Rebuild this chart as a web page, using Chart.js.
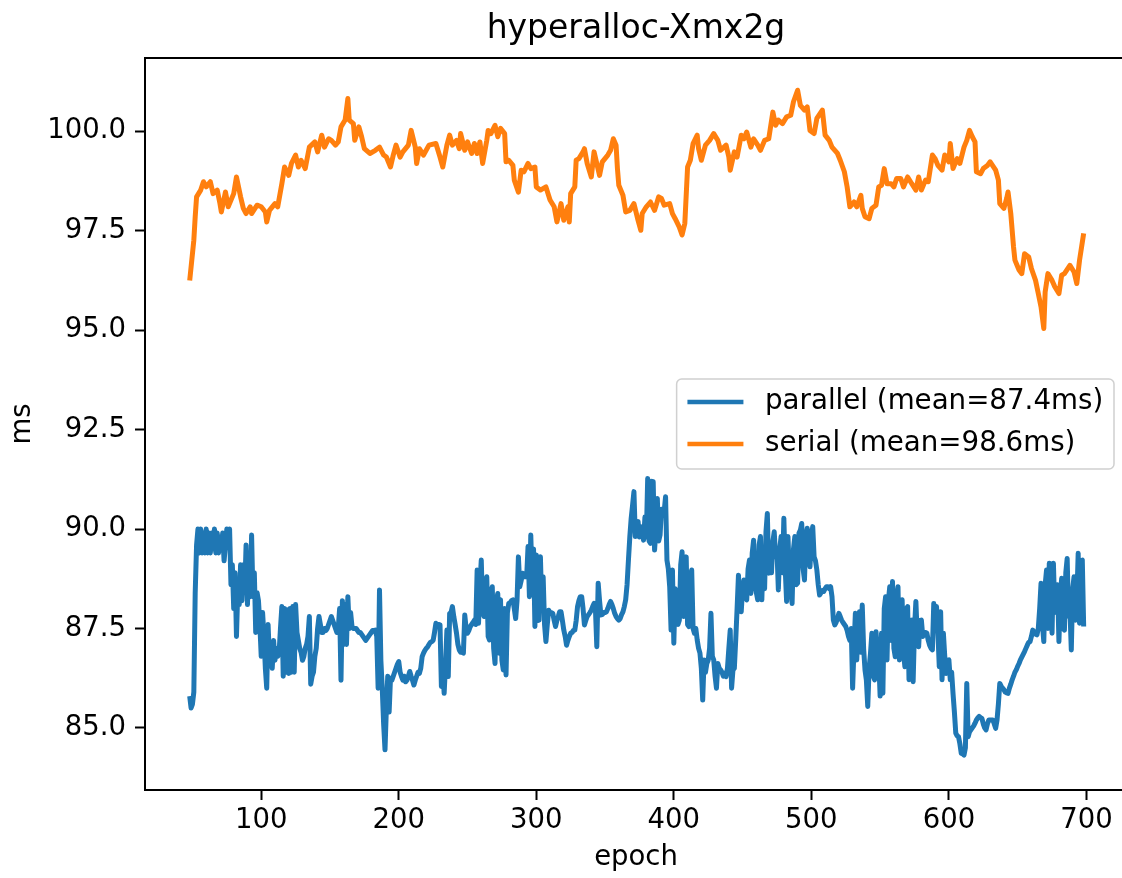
<!DOCTYPE html>
<html>
<head>
<meta charset="utf-8">
<script src="https://cdn.jsdelivr.net/npm/chart.js@4.4.1/dist/chart.umd.min.js"></script>
<style>
html, body { margin: 0; padding: 0; background: #fff; overflow: hidden; }
</style>
</head>
<body>
<canvas id="myChart" width="1130" height="878"></canvas>
<script>
const chartTitle = "hyperalloc-Xmx2g";
const seriesNames = ["parallel (mean=87.4ms)", "serial (mean=98.6ms)"];
const seriesColors = ["#1f77b4", "#ff7f0e"];
const xTicks = [100, 200, 300, 400, 500, 600, 700];
const yTicks = [85, 87.5, 90, 92.5, 95, 97.5, 100];

// parallel run (blue), one value per epoch starting at epoch 48
const parallelFirstEpoch = 48;
const parallelMs = [
    85.8,85.5,85.6,85.9,88.4,89.6,90.0,89.4,90.0,89.4,      // 48
    89.9,89.4,90.0,89.4,89.9,89.4,89.9,89.5,90.0,89.4,      // 58
    89.9,89.4,89.8,89.5,89.9,89.2,89.6,90.0,89.9,90.0,      // 68
    88.6,89.1,88.0,88.9,87.3,88.5,88.1,89.1,88.2,89.1,      // 78
    88.4,89.6,88.1,89.4,88.3,89.85,88.3,88.9,87.4,88.4,     // 88
    88.2,87.6,86.8,87.9,87.3,86.5,86.0,87.6,86.7,87.0,      // 98
    86.5,87.2,86.7,87.0,86.8,86.9,87.5,88.05,86.3,88.0,     // 108
    86.4,87.97,86.37,88.0,86.4,88.05,86.4,88.1,87.4,87.2,   // 118
    87.0,86.9,86.7,86.8,87.0,87.1,87.3,87.8,86.1,86.3,      // 128
    86.4,86.8,87.0,87.5,87.8,87.6,87.4,87.4,87.5,87.45,     // 138
    87.5,87.6,87.7,87.8,87.7,87.6,87.5,87.4,87.5,88.0,      // 148
    86.2,88.2,87.1,88.1,87.1,88.3,87.5,87.9,87.55,87.5,     // 158
    87.5,87.5,87.45,87.4,87.4,87.35,87.3,87.25,87.2,87.25,  // 168
    87.3,87.35,87.4,87.45,87.45,87.46,87.3,86.0,88.47,86.7, // 178
    86.0,85.1,84.45,85.5,86.3,85.4,86.25,86.2,86.3,86.4,    // 188
    86.5,86.6,86.67,86.4,86.29,86.2,86.3,86.16,86.2,86.3,   // 198
    86.42,86.3,86.2,86.08,86.2,86.3,86.4,86.37,86.5,86.79,  // 208
    86.88,86.95,87.0,87.04,87.1,87.15,87.17,87.2,87.4,87.63,// 218
    87.6,87.6,87.59,86.04,86.5,85.87,86.6,87.46,86.29,87.88,// 228
    87.9,88.05,87.8,87.6,87.38,87.1,86.96,86.9,86.9,86.88,  // 238
    87.84,87.5,87.38,87.45,87.55,87.6,87.65,87.71,87.6,88.97, // 248
    87.63,88.6,89.22,87.9,87.8,88.6,88.8,87.3,87.21,88.4,   // 258
    88.55,87.0,86.62,88.2,88.38,86.88,88.22,86.7,86.46,88.0,// 268
    86.33,87.9,88.13,88.15,88.2,88.22,88.0,87.75,88.2,89.3, // 278
    88.55,88.7,88.89,88.8,88.8,88.8,89.56,88.3,89.85,88.64, // 288
    89.5,87.55,89.35,87.7,87.71,89.3,88.0,88.8,87.6,87.17,  // 298
    87.6,87.96,87.9,87.9,87.88,87.7,87.55,87.7,87.8,87.92,  // 308
    87.92,87.7,87.46,87.3,87.08,87.2,87.3,87.38,87.4,87.45, // 318
    87.46,87.7,88.05,88.2,88.3,88.3,88.0,87.59,87.7,87.8,   // 328
    87.85,87.9,87.96,88.05,88.13,88.0,87.04,88.64,88.2,87.84, // 338
    87.85,87.9,87.9,87.92,88.0,88.1,88.18,88.1,88.0,87.88,  // 348
    87.8,87.75,87.71,87.75,87.85,87.92,88.05,88.22,88.6,89.22, // 358
    89.8,90.27,90.6,90.94,89.81,90.1,90.19,89.8,90.06,89.9, // 368
    89.72,90.3,89.8,91.27,89.7,89.64,91.2,91.19,89.47,90.0, // 378
    90.77,89.7,89.85,90.5,90.39,90.45,90.81,89.22,89.0,88.55, // 388
    87.46,88.97,87.13,88.5,88.38,87.6,87.71,89.1,89.43,87.8,// 398
    88.9,89.3,87.6,87.55,88.8,88.97,87.5,87.38,87.5,87.21,  // 408
    87.0,86.88,86.5,85.7,86.71,86.4,86.62,86.7,87.0,87.88,  // 418
    86.8,86.71,86.3,86.0,86.62,86.5,86.46,86.4,86.3,86.37,  // 428
    86.29,86.5,87.0,87.46,86.0,86.46,86.5,87.21,88.0,88.84, // 438
    88.2,87.92,88.5,88.72,88.3,88.22,89.0,89.22,88.38,89.4, // 448
    89.72,88.6,88.4,88.22,89.6,89.81,88.22,89.5,88.5,89.93, // 458
    90.39,88.89,89.4,88.9,89.68,89.93,89.3,89.47,88.47,89.5,// 468
    89.81,88.9,90.27,89.0,88.18,89.81,88.8,88.5,88.13,89.5, // 478
    89.81,88.6,88.64,89.9,89.97,90.14,89.0,88.72,89.8,90.02,// 488
    89.5,89.05,89.8,90.06,89.3,89.2,88.97,88.6,88.34,88.4,  // 498
    88.45,88.43,88.5,88.55,88.55,88.5,88.55,88.3,87.71,87.59, // 508
    87.65,87.75,87.88,87.8,87.71,87.65,87.6,87.55,87.45,87.3, // 518
    87.2,87.5,86.0,87.0,87.88,86.71,87.5,87.92,86.9,88.09,  // 528
    87.0,86.46,86.2,85.54,86.5,86.88,87.38,86.3,86.21,87.42,// 538
    86.9,86.71,85.8,87.38,85.87,88.0,88.3,86.71,88.2,88.55, // 548
    87.2,88.68,87.0,86.79,88.3,88.55,86.71,88.0,88.22,86.9, // 558
    86.54,88.0,88.05,86.21,87.7,87.71,86.16,87.5,88.18,87.3,// 568
    87.04,87.7,87.71,87.3,87.4,87.4,87.38,87.2,87.08,87.0,  // 578
    86.96,88.13,87.6,88.05,87.4,86.54,87.92,86.21,87.38,86.8, // 588
    86.37,86.7,86.71,86.21,86.4,85.87,85.4,84.87,84.8,84.78,// 598
    84.6,84.36,84.35,84.32,84.5,86.12,84.78,84.9,84.95,85.0,// 608
    85.05,85.12,85.2,85.25,85.29,85.26,85.24,85.1,85.0,84.95, // 618
    85.1,85.2,85.2,85.2,85.2,85.1,84.99,85.2,85.6,86.12,    // 628
    86.05,86.0,85.96,85.9,85.88,85.87,86.0,86.1,86.21,86.3, // 638
    86.4,86.46,86.55,86.62,86.71,86.78,86.85,86.92,87.0,87.08, // 648
    87.15,87.17,87.3,87.46,87.4,87.36,87.34,87.5,88.0,88.64,// 658
    87.6,87.17,88.6,88.97,87.5,89.14,88.5,87.38,89.14,87.9, // 668
    88.13,88.6,87.17,88.3,88.76,87.5,87.46,88.9,89.26,87.8, // 678
    87.97,86.96,88.5,88.8,87.71,88.2,89.39,87.63,89.2,89.22,// 688
    87.55                                                   // 698
];

// serial run (orange)
const serialEpochs = [
    48,51,52,53,56,58,60,63,65,68,70,71,74,76,80,82,85,87,89,92,93,97,100,103,104,106,110,112,115,117,
    120,122,125,127,129,132,135,139,141,144,146,149,151,154,156,158,161,163,164,167,168,171,173,175,179,183,186,189,191,194,
    196,198,201,203,207,209,212,213,215,218,222,227,230,232,235,237,239,242,244,245,248,250,253,255,257,259,261,264,265,267,
    270,272,274,277,278,280,283,284,287,289,291,294,296,299,300,303,307,310,313,315,318,320,323,324,325,328,329,331,334,335,
    337,340,342,346,348,352,354,356,358,359,360,363,365,368,371,374,376,377,380,383,386,389,391,393,397,399,401,404,406,408,
    410,412,414,417,418,420,423,426,429,432,434,438,440,441,444,446,449,451,453,456,458,461,463,466,469,472,474,476,479,482,
    485,487,490,492,495,497,499,502,504,508,510,513,515,519,521,524,526,528,531,533,536,537,539,542,544,547,549,551,553,555,
    558,560,562,565,567,570,573,576,578,580,583,585,588,590,592,595,597,600,601,603,606,608,611,613,615,617,619,620,623,625,
    628,630,634,636,637,640,642,643,645,647,648,651,653,655,658,660,663,665,667,669,670,672,675,677,680,682,684,688,691,693,
    695,698
];
const serialMs = [
    96.25,97.26,97.85,98.35,98.52,98.73,98.6,98.73,98.43,98.52,98.18,97.97,98.47,98.1,98.43,98.85,98.35,98.06,97.93,98.1,97.93,98.14,98.1,97.97,97.72,98.01,98.18,98.1,98.68,99.1,
    98.89,99.19,99.4,99.1,99.27,99.06,99.6,99.73,99.48,99.9,99.6,99.81,99.77,99.65,99.73,100.11,100.28,100.82,100.28,100.19,99.77,100.11,99.86,99.56,99.44,99.52,99.6,99.4,99.35,99.1,
    99.4,99.65,99.35,99.48,99.65,100.02,99.6,99.19,99.56,99.4,99.65,99.69,99.35,99.1,99.65,99.9,99.65,99.77,99.56,99.94,99.52,99.73,99.44,99.69,99.44,99.73,99.19,99.77,100.02,99.94,
    100.15,99.86,100.07,99.94,99.23,99.27,99.14,98.77,98.47,99.02,98.98,99.19,99.06,99.1,98.6,98.52,98.6,98.27,98.1,97.72,98.18,97.76,98.1,97.72,98.43,98.6,99.27,99.31,99.48,99.56,
    99.19,98.85,99.48,98.89,99.23,99.4,99.52,99.81,99.65,99.06,98.64,98.39,97.97,98.01,98.18,97.76,97.51,97.93,98.1,98.22,98.01,98.35,98.31,98.14,98.18,97.93,97.8,97.59,97.39,97.68,
    99.1,99.27,99.69,99.9,99.56,99.27,99.65,99.77,99.94,99.77,99.52,99.65,99.35,99.02,99.48,99.35,99.9,99.81,99.98,99.6,99.81,99.65,99.52,99.77,99.81,100.48,100.15,100.28,100.19,100.36,
    100.4,100.74,101.03,100.65,100.53,100.61,100.02,99.94,100.32,100.53,99.9,99.77,99.6,99.44,99.27,98.98,98.6,98.1,98.22,98.1,98.39,98.06,97.85,97.8,98.06,98.14,98.6,98.64,99.06,98.68,
    98.68,98.6,98.81,98.81,98.6,98.85,98.68,98.52,98.85,98.52,98.77,98.73,99.4,99.31,99.14,99.02,99.4,99.23,99.69,99.06,99.31,99.19,99.6,99.77,100.02,99.86,99.73,98.98,98.93,99.06,
    99.14,99.23,99.02,98.77,98.18,98.06,98.31,98.47,97.93,97.09,96.76,96.51,96.42,96.92,96.84,96.55,96.25,95.92,95.58,95.04,95.96,96.42,96.25,96.09,95.92,96.38,96.42,96.63,96.46,96.17,
    96.76,97.43
];

function parallelPoints(){
    return parallelMs.map(function(v, i){ return {x: parallelFirstEpoch + i, y: v}; });
}

function serialPoints(){
    return serialEpochs.map(function(x, i){ return {x: x, y: serialMs[i]}; });
}

// frame, title and legend the way matplotlib draws them
const mplExtras = {
    id: "mplExtras",
    afterDraw: function(chart){
        const ctx = chart.ctx;
        const a = chart.chartArea;
        ctx.save();
        ctx.strokeStyle = "#000";
        ctx.lineWidth = 2;
        ctx.strokeRect(a.left, a.top, a.right - a.left, a.bottom - a.top);

        ctx.fillStyle = "#000";
        ctx.font = "33px 'DejaVu Sans'";
        ctx.textAlign = "center";
        ctx.textBaseline = "alphabetic";
        ctx.fillText(chartTitle, (a.left + a.right) / 2, 38);

        ctx.font = "27.7px 'DejaVu Sans'";
        let textW = 0;
        seriesNames.forEach(function(n){ textW = Math.max(textW, ctx.measureText(n).width); });
        const boxW = 10.8 + 56 + 21.6 + textW + 10.8;
        const boxH = 90;
        const boxRight = a.right - 13;
        const boxLeft = boxRight - boxW;
        const boxTop = (a.top + a.bottom) / 2 - boxH / 2;
        ctx.beginPath();
        ctx.roundRect(boxLeft, boxTop, boxW, boxH, 5);
        ctx.fillStyle = "rgba(255,255,255,0.8)";
        ctx.fill();
        ctx.strokeStyle = "#d0d0d0";
        ctx.lineWidth = 1.5;
        ctx.stroke();

        ctx.textAlign = "left";
        ctx.textBaseline = "middle";
        seriesNames.forEach(function(n, i){
            const y = boxTop + 23 + i * 42;
            ctx.beginPath();
            ctx.moveTo(boxLeft + 10.8, y);
            ctx.lineTo(boxLeft + 10.8 + 56, y);
            ctx.strokeStyle = seriesColors[i];
            ctx.lineWidth = 4.5;
            ctx.stroke();
            ctx.fillStyle = "#000";
            ctx.fillText(n, boxLeft + 10.8 + 56 + 21.6, y);
        });
        ctx.restore();
    }
};

document.addEventListener("DOMContentLoaded", function(){
    Chart.defaults.font.family = "'DejaVu Sans'";
    Chart.defaults.color = "#000";
    const ctx = document.getElementById("myChart").getContext("2d");
    myChart = new Chart(ctx, {
        type: "line",
        data: {
            datasets: [{
                label: seriesNames[0],
                data: parallelPoints(),
                borderColor: seriesColors[0],
                borderWidth: 5,
                borderJoinStyle: "round",
                pointRadius: 0,
                tension: 0
            }, {
                label: seriesNames[1],
                data: serialPoints(),
                borderColor: seriesColors[1],
                borderWidth: 5,
                borderJoinStyle: "round",
                pointRadius: 0,
                tension: 0
            }]
        },
        options: {
            responsive: false,
            animation: false,
            layout: { padding: { left: 0, top: 58, right: 3, bottom: 0 } },
            plugins: {
                legend: { display: false },
                title: { display: false },
                tooltip: { enabled: false }
            },
            scales: {
                x: {
                    type: "linear",
                    min: 15.5,
                    max: 729.5,
                    afterBuildTicks: function(scale){ scale.ticks = xTicks.map(function(v){ return {value: v}; }); },
                    afterFit: function(scale){ scale.height = 88; },
                    ticks: { font: { size: 27.5 }, padding: 4, maxRotation: 0 },
                    grid: { drawOnChartArea: false, tickLength: 10, tickColor: "#000", tickWidth: 2 },
                    border: { display: true, color: "#000", width: 2 },
                    title: { display: true, text: "epoch", font: { size: 27.5 }, padding: { top: 0, bottom: 4 } }
                },
                y: {
                    min: 83.44,
                    max: 101.84,
                    afterBuildTicks: function(scale){ scale.ticks = yTicks.map(function(v){ return {value: v}; }); },
                    afterFit: function(scale){ scale.width = 145; },
                    ticks: { font: { size: 27.5 }, padding: 9, callback: function(v){ return v.toFixed(1); } },
                    grid: { drawOnChartArea: false, tickLength: 10, tickColor: "#000", tickWidth: 2 },
                    border: { display: true, color: "#000", width: 2 },
                    title: { display: true, text: "ms", font: { size: 27.5 }, padding: { top: 6, bottom: 0 } }
                }
            }
        },
        plugins: [mplExtras]
    });
});
</script>
</body>
</html>
